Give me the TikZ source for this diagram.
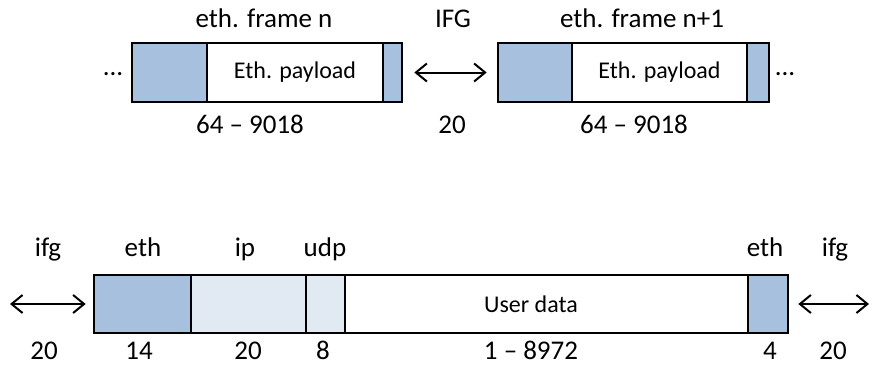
\documentclass[tikz,border=0pt]{standalone}
\usepackage{fontspec}
\setmainfont{Carlito}
\usetikzlibrary{arrows.meta}
\definecolor{ethblue}{RGB}{167,192,222}
\definecolor{iplight}{RGB}{225,233,243}

\begin{document}
\begin{tikzpicture}
  [x=1pt,y=-1pt,
   cell/.style={draw,line width=2.6pt,rectangle,inner sep=0pt,minimum height=59pt,
     font=\fontsize{24}{28}\selectfont},
   hdr/.style={cell,fill=ethblue},
   lbl/.style={anchor=base,inner sep=0pt,font=\fontsize{27}{30}\selectfont},
   gap/.style={{Straight Barb[length=11pt,width=18pt]}-{Straight Barb[length=11pt,width=18pt]},
     line width=2pt}]

  \useasboundingbox (0,0) rectangle (869,367);

  % two ethernet frames
  \node[hdr,minimum width=75pt]  (fnh) at (169.5,72.5) {};
  \node[cell,minimum width=176pt] (fnp) at (295,72.5) {Eth. payload};
  \node[hdr,minimum width=19pt]  (fnt) at (392.5,72.5) {};
  \node[hdr,minimum width=74pt]  (fmh) at (535,72.5) {};
  \node[cell,minimum width=175pt] (fmp) at (659.5,72.5) {Eth. payload};
  \node[hdr,minimum width=22pt]  (fmt) at (758,72.5) {};

  \node[lbl] (dl) at (113,75) {...};
  \node[lbl] (dr) at (785,75) {...};
  \node[lbl] (tn)  at (264,27) {eth. frame n};
  \node[lbl] (tg)  at (453,27) {IFG};
  \node[lbl] (tm)  at (642,27) {eth. frame n+1};
  \node[lbl] (sn)  at (250,133) {64 -- 9018};
  \node[lbl] (sg)  at (452,133) {20};
  \node[lbl] (sm)  at (634,133) {64 -- 9018};

  \draw[gap,shorten <=11pt,shorten >=10pt] (fnt) -- (fmh);

  % udp datagram in one frame
  \node[hdr,minimum width=97pt,minimum height=58pt]  (eth)  at (142.5,304) {};
  \node[cell,fill=iplight,minimum width=115pt,minimum height=58pt] (ip) at (248.5,304) {};
  \node[cell,fill=iplight,minimum width=39pt,minimum height=58pt]  (udp) at (325.5,304) {};
  \node[cell,minimum width=403pt,minimum height=58pt] (data) at (546.5,304) {};
  \node[hdr,minimum width=40pt,minimum height=58pt]  (fcs)  at (768,304) {};
  \node[font=\fontsize{24}{28}\selectfont] (ud) at (531,304) {User data};

  \coordinate (lend) at (10,304);
  \coordinate (rend) at (869,304);
  \draw[gap,shorten >=7pt] (lend) -- (eth);
  \draw[gap,shorten <=9pt] (fcs) -- (rend);

  \foreach \x/\t in {48/ifg,143/eth,245/ip,325/udp,765/eth,835/ifg}
    \node[lbl] at (\x,256) {\t};
  \foreach \x/\t in {44/20,139/14,248/20,323/8,531/1 -- 8972,770/4,833/20}
    \node[lbl] at (\x,359) {\t};
\end{tikzpicture}
\end{document}
